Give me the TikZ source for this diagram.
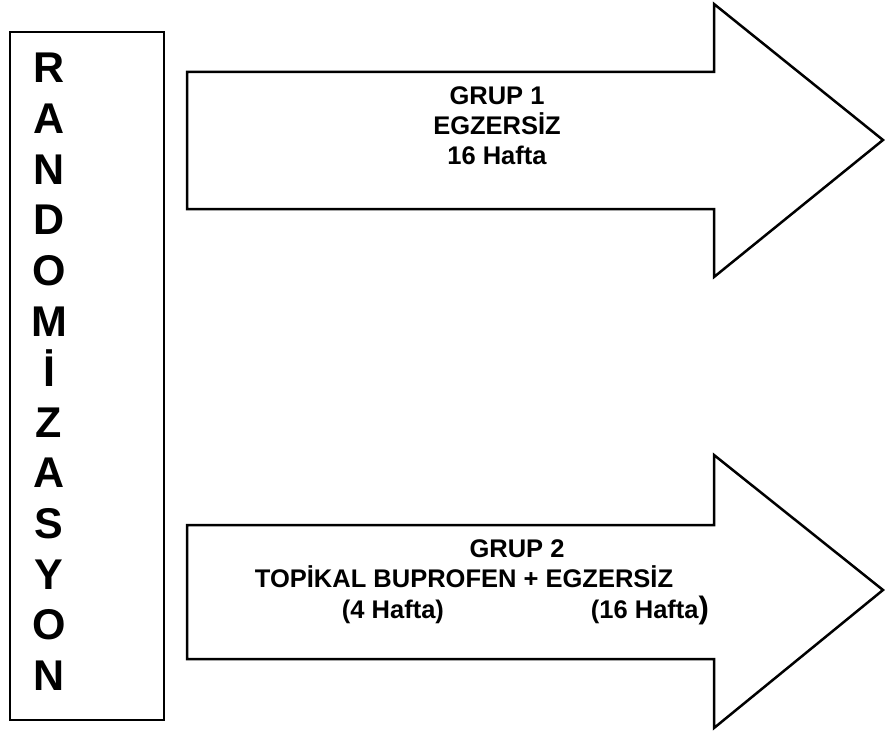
\documentclass[tikz,border=0pt]{standalone}
\usepackage{fontspec}
\setmainfont{Liberation Sans}
\usetikzlibrary{positioning}
\tikzset{
  kutu/.style={draw=black, line width=2.8pt},
  okbox/.style={draw=black, line width=2.5pt, line join=miter, fill=white},
  harf/.style={font=\fontsize{43}{43}\selectfont\bfseries, inner sep=0pt, anchor=base},
  yazi/.style={font=\fontsize{25.5}{25.5}\selectfont\bfseries, inner sep=0pt, anchor=base},
}

\begin{document}
\begin{tikzpicture}[x=1pt, y=-1pt]
\useasboundingbox (0,0) rectangle (885,733);

% ============================ randomizasyon kutusu ======================
\draw[kutu] (10,32) rectangle (164,720);
\foreach \l [count=\i from 0] in {R,A,N,D,O,M,İ,Z,A,S,Y,O,N}
  \node[harf] (h\i) at (49,83+50.6*\i) {\l};

% ============================ grup 1 oku ================================
\draw[okbox] (187,72) coordinate (g1sol) -- (714,72) -- (714,4)
  -- (883,140) coordinate (g1uc) -- (714,277) -- (714,209) -- (187,209) -- cycle;
\node[yazi] (g1a) at (497,105) {GRUP 1};
\node[yazi] (g1b) at (497,135) {EGZERSİZ};
\node[yazi] (g1c) at (497,164) {16 Hafta};

% ============================ grup 2 oku ================================
\draw[okbox] (187,525) coordinate (g2sol) -- (714,525) -- (714,455)
  -- (883,590) coordinate (g2uc) -- (714,728) -- (714,659) -- (187,659) -- cycle;
\node[yazi] (g2a) at (517,557) {GRUP 2};
\node[yazi] (g2b) at (464,587) {TOPİKAL BUPROFEN + EGZERSİZ};
\node[yazi] (g2c) at (393,618) {(4 Hafta)};
\node[yazi] (g2d) at (650,618) {(16 Hafta{\fontsize{31}{31}\selectfont)}};

\end{tikzpicture}
\end{document}
